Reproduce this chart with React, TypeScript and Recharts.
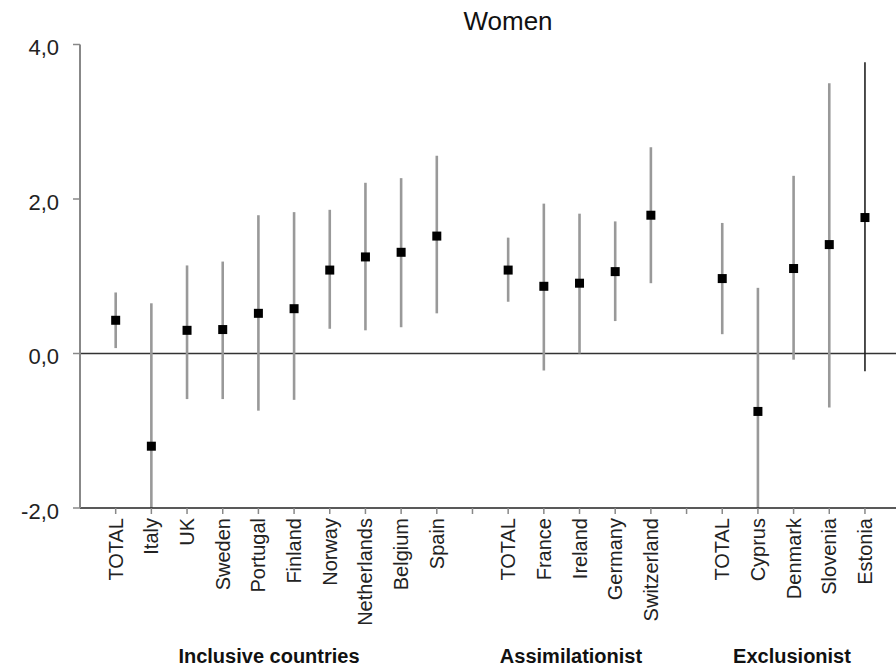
import { ComposedChart, Scatter, ErrorBar, XAxis, YAxis, ReferenceLine } from 'recharts';

// Women – means with confidence intervals, by integration regime
const inclusiveCountries = ['TOTAL', 'Italy', 'UK', 'Sweden', 'Portugal', 'Finland', 'Norway', 'Netherlands', 'Belgium', 'Spain'];
const inclusiveMean = [0.43, -1.2, 0.3, 0.31, 0.52, 0.58, 1.08, 1.25, 1.31, 1.52];
const inclusiveLow = [0.07, -2.0, -0.59, -0.59, -0.74, -0.6, 0.32, 0.3, 0.34, 0.52];
const inclusiveHigh = [0.79, 0.65, 1.14, 1.19, 1.79, 1.83, 1.86, 2.21, 2.27, 2.56];

const assimilationistCountries = ['TOTAL', 'France', 'Ireland', 'Germany', 'Switzerland'];
const assimilationistMean = [1.08, 0.87, 0.91, 1.06, 1.79];
const assimilationistLow = [0.67, -0.22, 0.0, 0.42, 0.91];
const assimilationistHigh = [1.5, 1.94, 1.81, 1.71, 2.67];

const exclusionistCountries = ['TOTAL', 'Cyprus', 'Denmark', 'Slovenia', 'Estonia'];
const exclusionistMean = [0.97, -0.75, 1.1, 1.41, 1.76];
const exclusionistLow = [0.25, -2.0, -0.08, -0.7, -0.23];
const exclusionistHigh = [1.69, 0.85, 2.3, 3.5, 3.77];

const yTicks = [-2, 0, 2, 4];

type Row = { x: number; name: string; mean: number; err: [number, number] };

function buildRows(start: number, names: string[], mean: number[], low: number[], high: number[]): Row[] {
  return names.map((name, i) => ({
    x: start + i,
    name,
    mean: mean[i],
    err: [mean[i] - low[i], high[i] - mean[i]],
  }));
}

const rows: Row[] = [
  ...buildRows(1, inclusiveCountries, inclusiveMean, inclusiveLow, inclusiveHigh),
  ...buildRows(12, assimilationistCountries, assimilationistMean, assimilationistLow, assimilationistHigh),
  ...buildRows(18, exclusionistCountries, exclusionistMean, exclusionistLow, exclusionistHigh),
];

const mainRows = rows.filter((r) => r.name !== 'Estonia');
const estoniaRows = rows.filter((r) => r.name === 'Estonia');

const xTicks = Array.from({ length: 22 }, (_, i) => i + 1);
const tickLabel: Record<number, string> = {};
rows.forEach((r) => (tickLabel[r.x] = r.name));

const font = '"Liberation Sans", Arial, sans-serif';

const SquareDot = (props: any) => {
  const { cx, cy } = props;
  return <rect x={cx - 4.5} y={cy - 4.5} width={9} height={9} fill="#000" />;
};

const RotatedTick = (props: any) => {
  const { x, y, payload } = props;
  const label = tickLabel[payload.value] ?? '';
  return (
    <text
      x={x}
      y={y}
      transform={`rotate(-90, ${x}, ${y})`}
      textAnchor="end"
      dominantBaseline="central"
      fontSize={20}
      fontFamily={font}
      fill="#222"
    >
      {label}
    </text>
  );
};

const YTick = (props: any) => {
  const { x, y, payload } = props;
  return (
    <text x={x} y={y + 3} textAnchor="end" dominantBaseline="central" fontSize={22} fontFamily={font} fill="#222">
      {Number(payload.value).toFixed(1).replace('.', ',')}
    </text>
  );
};

const groupLabel = (text: string, center: number) => (
  <div
    style={{
      position: 'absolute',
      left: center - 150,
      width: 300,
      top: 646,
      textAlign: 'center',
      fontFamily: font,
      fontWeight: 'bold',
      fontSize: 20,
      lineHeight: '20px',
      color: '#111',
    }}
  >
    {text}
  </div>
);

export default function App() {
  return (
    <div style={{ position: 'absolute', left: 0, top: 0, width: 896, height: 667, background: '#fff' }}>
      <ComposedChart width={896} height={667} margin={{ top: 44.5, right: 0, left: 0, bottom: 0 }}>
        <XAxis
          type="number"
          dataKey="x"
          domain={[0, 22.87]}
          ticks={xTicks}
          interval={0}
          allowDataOverflow
          height={159}
          axisLine={{ stroke: '#222', strokeWidth: 1.5 }}
          tickLine={{ stroke: '#888', strokeWidth: 1.5 }}
          tickSize={6}
          tickMargin={4}
          tick={<RotatedTick />}
        />
        <YAxis
          type="number"
          dataKey="mean"
          domain={[-2, 4]}
          ticks={yTicks}
          allowDataOverflow
          width={80}
          axisLine={{ stroke: '#888', strokeWidth: 2 }}
          tickLine={{ stroke: '#888', strokeWidth: 1.5 }}
          tickSize={7}
          tickMargin={14}
          tick={<YTick />}
        />
        <ReferenceLine y={0} stroke="#333" strokeWidth={1.5} />
        <Scatter data={mainRows} dataKey="mean" shape={<SquareDot />} isAnimationActive={false}>
          <ErrorBar dataKey="err" direction="y" width={0} stroke="#999" strokeWidth={2.6} />
        </Scatter>
        <Scatter data={estoniaRows} dataKey="mean" shape={<SquareDot />} isAnimationActive={false}>
          <ErrorBar dataKey="err" direction="y" width={0} stroke="#222" strokeWidth={1.6} />
        </Scatter>
      </ComposedChart>
      <div
        style={{
          position: 'absolute',
          left: 408,
          width: 200,
          top: 8,
          textAlign: 'center',
          fontFamily: font,
          fontSize: 26,
          lineHeight: '26px',
          color: '#111',
        }}
      >
        Women
      </div>
      {groupLabel('Inclusive countries', 269)}
      {groupLabel('Assimilationist', 571)}
      {groupLabel('Exclusionist', 792)}
    </div>
  );
}
